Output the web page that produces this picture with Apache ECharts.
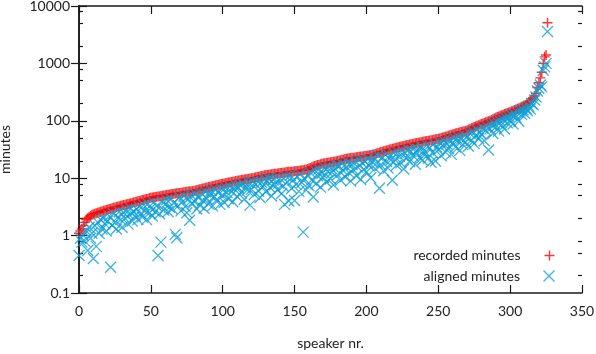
<!DOCTYPE html>
<html>
<head>
<meta charset="utf-8">
<script src="https://cdn.jsdelivr.net/npm/echarts@6/dist/echarts.min.js"></script>
<style>html,body{margin:0;padding:0;background:#fff}#c{width:596px;height:354px}</style>
</head>
<body>
<div id="c"></div>
<script>
// recorded minutes per speaker (sorted ascending), speaker nr. = index
const recorded = [
1.1,1.2,1.3,1.5,1.7,1.9,2.0,2.1,2.2,2.3,
2.35,2.4,2.45,2.5,2.55,2.6,2.65,2.7,2.75,2.8,
2.85,2.9,2.95,3.0,3.05,3.1,3.15,3.2,3.25,3.3,
3.35,3.4,3.45,3.5,3.55,3.6,3.65,3.7,3.8,3.85,
3.9,3.95,4.0,4.1,4.15,4.2,4.3,4.35,4.4,4.5,
4.55,4.6,4.65,4.7,4.75,4.8,4.85,4.9,4.95,5.0,
5.05,5.1,5.15,5.2,5.25,5.3,5.35,5.4,5.45,5.5,
5.55,5.6,5.65,5.7,5.75,5.8,5.85,5.9,5.95,6.0,
6.05,6.1,6.2,6.3,6.4,6.5,6.6,6.7,6.8,6.9,
7.0,7.1,7.2,7.3,7.4,7.5,7.6,7.7,7.8,7.9,
8.0,8.1,8.2,8.3,8.4,8.5,8.6,8.7,8.8,8.9,
9.0,9.1,9.2,9.3,9.4,9.5,9.6,9.7,9.8,9.9,
10.0,10.1,10.2,10.4,10.5,10.6,10.8,10.9,11.0,11.2,
11.3,11.4,11.5,11.6,11.7,11.8,11.9,12.0,12.1,12.2,
12.3,12.4,12.5,12.6,12.7,12.8,12.9,13.0,13.0,13.1,
13.2,13.3,13.4,13.5,13.6,13.7,13.8,14.0,14.2,14.5,
14.8,15.0,15.5,16.0,16.3,16.6,16.9,17.2,17.5,17.8,
18.0,18.2,18.4,18.6,18.8,19.0,19.2,19.4,19.6,19.8,
20.0,20.3,20.6,20.9,21.2,21.5,21.8,22.0,22.2,22.4,
22.6,22.8,23.0,23.2,23.4,23.6,23.8,24.0,24.2,24.4,
24.6,24.8,25.0,25.3,25.6,26.0,26.5,27.0,27.5,28.0,
28.5,29,29.5,30,30.5,31,31.5,32,32.5,33,
33.5,34,34.5,35,35.5,36,36.5,37,37.5,38,
38.5,39,39.5,40,40.5,41,41.5,42,42.5,43,
43.5,44,44.5,45,45.5,46,46.5,47,47.5,48,
48.5,49,50,51,52,53,54,55,56,57,
58,59,60,61,62,63,64,65,66,67,
68,70,72,74,76,78,80,82,84,86,
88,90,92,94,96,98,100,103,106,110,
113,116,119,122,125,128,131,134,137,140,
143,146,150,154,158,162,166,170,175,180,
185,190,200,210,220,235,250,270,300,380,
460,560,700,1000,1300,1400,5100
];
// aligned minutes per speaker (same order)
const aligned = [
0.45,0.9,0.77,1.0,0.8,1.2,0.55,1.4,0.9,1.1,
0.4,1.5,0.65,1.7,1.1,1.9,1.3,2.0,1.6,1.2,
1.8,2.2,0.28,1.5,2.4,1.7,1.3,2.1,2.6,1.9,
1.4,2.5,2.0,2.8,1.6,2.3,3.0,1.8,2.6,2.2,
2.9,1.9,3.2,2.4,2.1,3.4,2.7,1.9,3.6,2.5,
3.0,2.2,3.8,2.6,3.3,0.45,2.4,0.77,3.9,2.8,
3.5,4.2,2.6,3.1,4.4,2.9,3.7,1.05,0.92,3.3,
4.7,2.7,3.9,4.9,3.2,2.5,4.3,1.85,5.1,3.6,
4.0,5.3,2.9,4.6,3.4,5.5,4.1,3.0,5.8,4.4,
3.6,5.2,6.1,3.3,4.8,6.3,4.2,5.6,3.5,6.6,
5.0,3.8,6.9,5.6,4.4,7.2,5.9,3.9,6.5,7.5,
4.8,6.8,7.6,5.5,8.1,4.3,7.0,6.2,8.4,3.4,
6.4,8.7,5.2,7.8,9.0,6.0,4.6,8.5,7.1,9.6,
5.8,8.9,10.0,6.9,4.9,9.4,7.7,10.5,6.3,8.2,
9.9,5.4,7.3,3.5,10.8,8.6,4.0,11.2,6.6,9.2,
4.1,7.8,10.6,5.9,12.0,8.4,1.15,9.7,6.2,11.4,
7.4,12.6,9.3,4.7,13.8,8.0,11.0,14.5,7.0,12.2,
10.3,15.2,8.6,13.1,16.0,9.8,12.7,7.6,14.6,17.0,
11.5,16.4,9.2,18.0,13.4,10.6,15.8,19.0,12.3,8.9,
17.2,13.9,20.0,11.0,15.6,21.0,9.5,18.4,14.2,19.8,
12.8,21.8,16.5,10.2,19.3,23.0,14.7,18.1,25.0,6.7,
17.0,22.5,13.5,26.0,19.5,15.0,24.5,20.8,9.2,27.5,
21.0,16.8,28.5,24.0,18.5,30.5,14.5,26.8,22.2,32.0,
19.6,29.0,25.2,34.0,17.5,27.8,31.5,23.0,36.0,20.5,
30.0,25.8,38.0,22.4,33.5,19.0,28.0,40.0,20.0,35.0,
31.0,42.0,24.5,37.0,45.0,28.5,39.5,33.0,47.0,26.0,
41.0,50.0,35.0,44.5,53.0,30.5,48.0,38.5,56.0,42.5,
52.0,36.0,60.0,46.0,65.0,40.0,55.0,70.0,49.0,62.0,
58.0,75.0,45.0,68.0,80.0,31.0,72.0,85.0,60.0,90.0,
78.0,95.0,66.0,100.0,85.0,105.0,72.0,112.0,92.0,118.0,
100.0,125.0,88.0,130.0,115.0,140.0,98.0,150.0,128.0,155.0,
135.0,165.0,150.0,180.0,160.0,200.0,190.0,230.0,260.0,330.0,
370,420,390,760,870,1000,3600
];
const seriesNames = ['recorded minutes', 'aligned minutes'];
const xTicks = [0, 50, 100, 150, 200, 250, 300, 350];
const yTickLabels = ['0.1', '1', '10', '100', '1000', '10000'];
const yMinorTicks = [0.2,0.5,0.8,2,5,8,20,50,80,200,500,800,2000,5000,8000];

const FONT = 'Lato';
const RED = '#ff0000';
const BLUE = '#0a9fd6';
const PLUS = 'path://M0,5L10,5M5,0L5,10';
const CROSS = 'path://M0,0L10,10M10,0L0,10';
const axisLine = { show: true, lineStyle: { color: '#1a1a1a', width: 1.6 } };

function xAx(pos, labels) {
  return {
    type: 'value', position: pos, min: xTicks[0], max: xTicks[xTicks.length - 1], interval: 50,
    axisLine: axisLine,
    axisTick: { show: true, inside: true, length: 8, lineStyle: { color: '#1a1a1a', width: 1.2 } },
    axisLabel: { show: labels, margin: 11, fontFamily: FONT, fontSize: 14, color: '#222' },
    splitLine: { show: false },
    name: labels ? 'speaker nr.' : '', nameLocation: 'middle', nameGap: 43,
    nameTextStyle: { fontFamily: FONT, fontSize: 14, color: '#222' }
  };
}
function yAx(pos, labels) {
  return {
    type: 'log', logBase: 10, position: pos, min: 0.1, max: 10000,
    axisLine: axisLine,
    axisTick: { show: true, inside: true, length: 8, lineStyle: { color: '#1a1a1a', width: 1.2 } },
    axisLabel: { show: labels, margin: 9, fontFamily: FONT, fontSize: 14, color: '#222',
      formatter: function (v) { const k = Math.round(Math.log10(v)) + 1; return yTickLabels[k] || ''; } },
    splitLine: { show: false },
    name: labels ? 'minutes' : '', nameLocation: 'middle', nameGap: 67, nameRotate: 90,
    nameTextStyle: { fontFamily: FONT, fontSize: 14, color: '#222' }
  };
}
function yMinor(pos) {
  return {
    type: 'log', logBase: 10, position: pos, min: 0.1, max: 10000,
    axisLine: { show: false },
    axisTick: { show: true, inside: true, length: 4, customValues: yMinorTicks, lineStyle: { color: '#1a1a1a', width: 1.2 } },
    axisLabel: { show: false },
    splitLine: { show: false }
  };
}

const chart = echarts.init(document.getElementById('c'), null, { renderer: 'canvas' });
chart.setOption({
  animation: false,
  backgroundColor: '#fff',
  grid: { left: 79, right: 14, top: 6, bottom: 61, containLabel: false, outerBoundsMode: 'none' },
  xAxis: [xAx('bottom', true), xAx('top', false)],
  yAxis: [yAx('left', true), yAx('right', false), yMinor('left'), yMinor('right')],
  legend: [
    { data: [seriesNames[0]], right: 39, top: 248, align: 'right', orient: 'horizontal',
      itemWidth: 48, itemHeight: 10, padding: 0, icon: PLUS,
      itemStyle: { color: 'none', borderColor: RED, borderWidth: 1.4 },
      textStyle: { fontFamily: FONT, fontSize: 14, color: '#222' } },
    { data: [seriesNames[1]], right: 39, top: 268, align: 'right', orient: 'horizontal',
      itemWidth: 48, itemHeight: 11, padding: 0, icon: CROSS,
      itemStyle: { color: 'none', borderColor: BLUE, borderWidth: 1.3 },
      textStyle: { fontFamily: FONT, fontSize: 14, color: '#222' } }
  ],
  series: [
    { name: seriesNames[0], type: 'scatter', symbol: PLUS, symbolSize: 10, symbolKeepAspect: true,
      xAxisIndex: 0, yAxisIndex: 0,
      itemStyle: { color: 'none', borderColor: RED, borderWidth: 1.4 },
      data: recorded.map((v, i) => [i, v]) },
    { name: seriesNames[1], type: 'scatter', symbol: CROSS, symbolSize: 11, symbolKeepAspect: true,
      xAxisIndex: 0, yAxisIndex: 0,
      itemStyle: { color: 'none', borderColor: BLUE, borderWidth: 1.3 },
      data: aligned.map((v, i) => [i, v]) }
  ]
});
</script>
</body>
</html>
